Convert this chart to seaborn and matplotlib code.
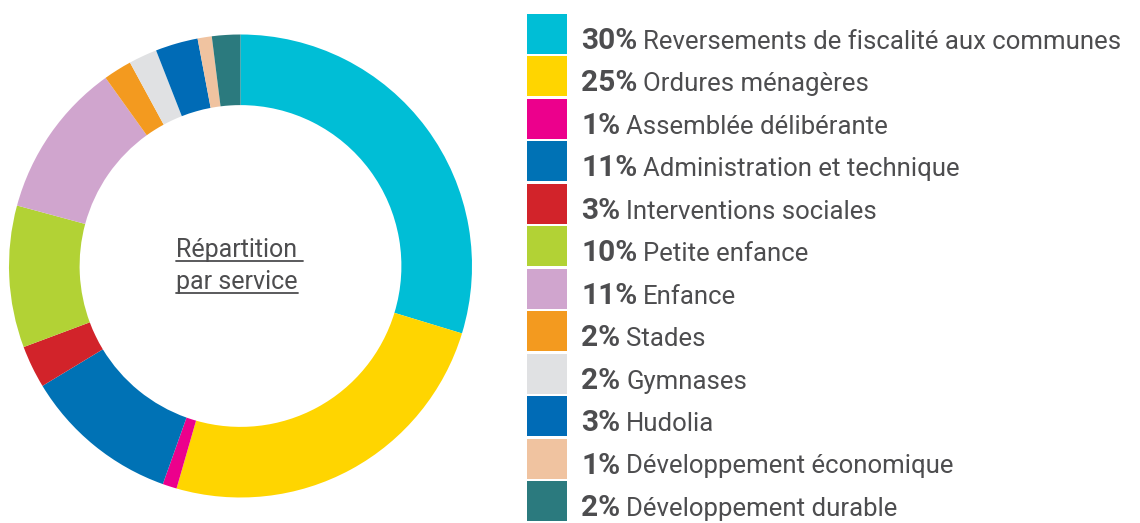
import matplotlib.pyplot as plt
import seaborn as sns
from matplotlib.patches import Rectangle

# data (clockwise from 12 o'clock)
services = [
    "Reversements de fiscalité aux communes", "Ordures ménagères", "Assemblée délibérante",
    "Administration et technique", "Interventions sociales", "Petite enfance", "Enfance",
    "Stades", "Gymnases", "Hudolia", "Développement économique", "Développement durable",
]
shares = [30, 25, 1, 11, 3, 10, 11, 2, 2, 3, 1, 2]
colors = [
    "#00BED6", "#FFD500", "#EC008C", "#0072B5", "#D2232A", "#B2D235",
    "#D0A5CE", "#F39A1F", "#E0E1E3", "#006BB6", "#F0C3A0", "#2B7A7E",
]
center_lines = ["Répartition ", "par service"]

sns.set_theme(style="white")
plt.rcParams["font.family"] = ["Roboto", "DejaVu Sans"]
text_color = "#4D4D4F"

W, H = 1140, 523
fig = plt.figure(figsize=(W / 100, H / 100), dpi=100)

# donut
cx, cy, r = 240.5, 266, 231.5
ax = fig.add_axes([(cx - r) / W, (H - cy - r) / H, 2 * r / W, 2 * r / H])
ax.pie(shares, colors=colors, startangle=90, counterclock=False, radius=1,
       wedgeprops=dict(width=0.305, linewidth=0))
ax.set_xlim(-1, 1); ax.set_ylim(-1, 1); ax.set_aspect("equal"); ax.axis("off")

# overlay axes in pixel units for legend and centre label
lax = fig.add_axes([0, 0, 1, 1])
lax.set_xlim(0, W); lax.set_ylim(H, 0); lax.axis("off")
fig.canvas.draw()
renderer = fig.canvas.get_renderer()
to_data = lax.transData.inverted()

row_top, pitch, box = 14, 42.45, 40
for i, (name, pct, col) in enumerate(zip(services, shares, colors)):
    y0 = row_top + i * pitch
    yb = y0 + 35
    lax.add_patch(Rectangle((527, y0), box, box, color=col, lw=0))
    t = lax.text(581, yb, f"{pct}%", fontsize=21.5, fontweight="bold",
                 color=text_color, va="baseline", ha="left")
    x_end = to_data.transform((t.get_window_extent(renderer).x1, 0))[0]
    lax.text(x_end + 6, yb, name, fontsize=18.5, color=text_color, va="baseline", ha="left")

for j, line in enumerate(center_lines):
    yb = 257 + j * 32
    t = lax.text(176, yb, line, fontsize=18, color=text_color, va="baseline", ha="left")
    bb = t.get_window_extent(renderer)
    x0 = to_data.transform((bb.x0, 0))[0]
    x1 = to_data.transform((bb.x1, 0))[0]
    lax.plot([x0, x1], [yb + 4, yb + 4], color=text_color, lw=1.3)

fig.savefig("out.png", dpi=100)
